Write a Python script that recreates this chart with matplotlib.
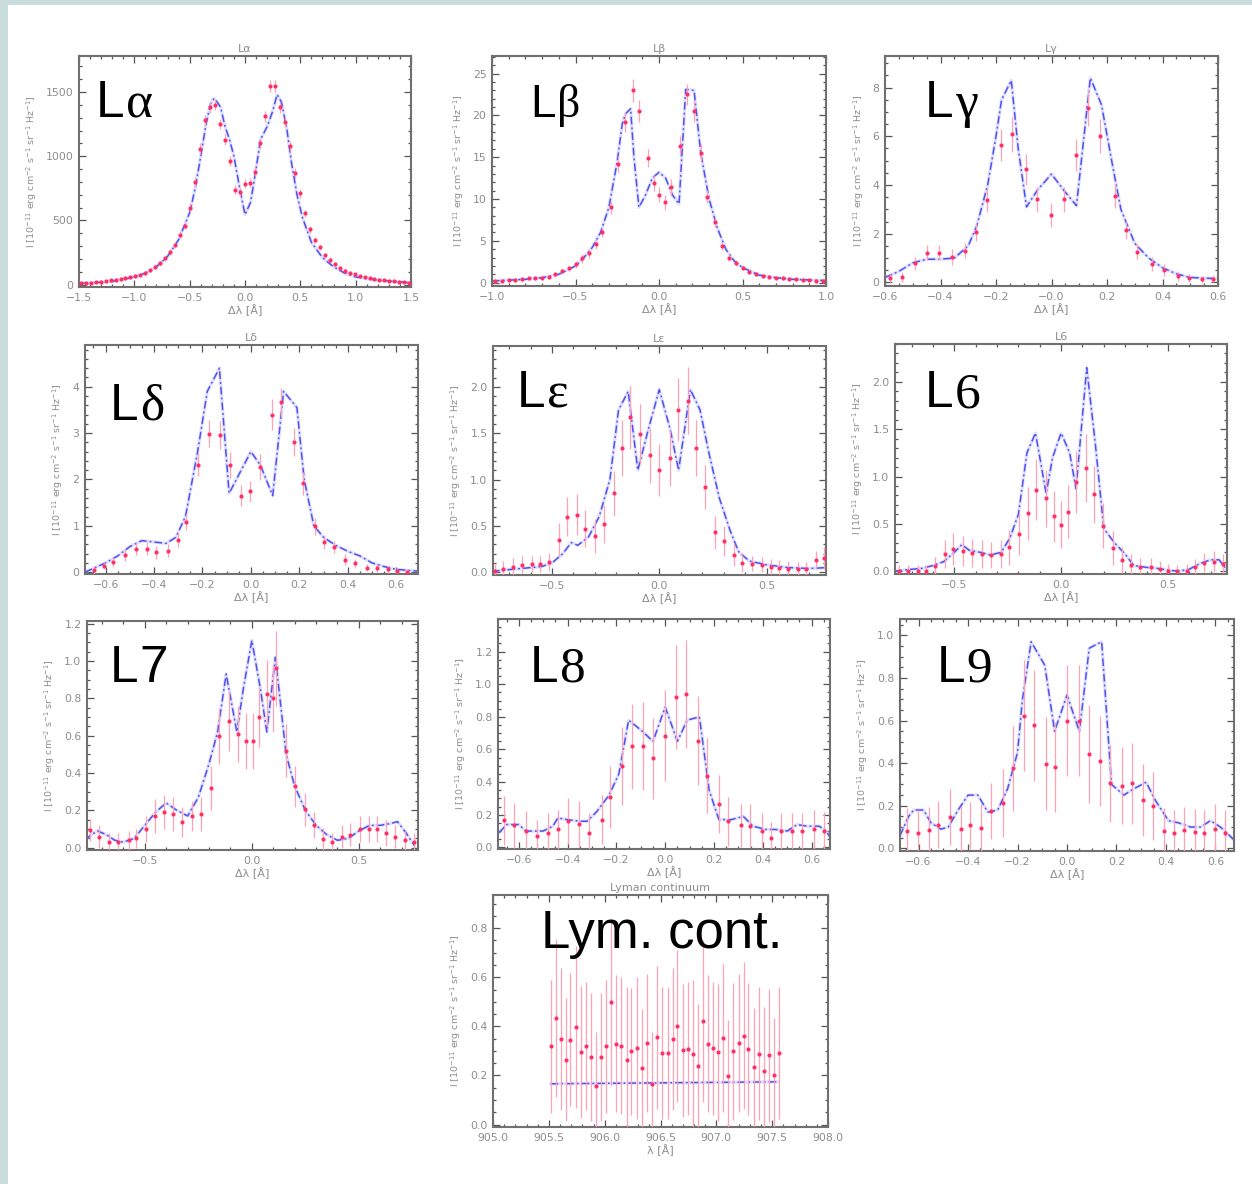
import matplotlib
matplotlib.use("Agg")
import matplotlib.pyplot as plt
from matplotlib.ticker import AutoMinorLocator
from matplotlib.patches import Rectangle

W, H = 1252, 1184
M = "\u2212"

# ---------------- Lyman alpha ----------------
LA_X = [-1.485, -1.44, -1.395, -1.35, -1.305, -1.26, -1.215, -1.17, -1.125, -1.08,
        -1.035, -0.99, -0.945, -0.9, -0.855, -0.81, -0.765, -0.72, -0.675, -0.63,
        -0.585, -0.54, -0.495, -0.45, -0.405, -0.36, -0.315, -0.27, -0.225, -0.18,
        -0.135, -0.09, -0.045, 0.0, 0.045, 0.09, 0.135, 0.18, 0.225, 0.27,
        0.315, 0.36, 0.405, 0.45, 0.495, 0.54, 0.585, 0.63, 0.675, 0.72,
        0.765, 0.81, 0.855, 0.9, 0.945, 0.99, 1.035, 1.08, 1.125, 1.17,
        1.215, 1.26, 1.305, 1.35, 1.395, 1.44, 1.485]
LA_Y = [12, 14, 16, 20, 24, 28, 33, 40, 45, 52,
        60, 68, 78, 92, 112, 140, 165, 205, 255, 310,
        390, 460, 600, 800, 1060, 1280, 1380, 1400, 1250, 1130,
        960, 740, 720, 785, 795, 880, 1100, 1310, 1545, 1545,
        1380, 1270, 1080, 870, 710, 555, 430, 345, 290, 230,
        195, 160, 130, 110, 92, 80, 68, 58, 50, 45,
        40, 35, 30, 27, 24, 20, 16]
LA_E = [10, 10, 10, 10, 10, 10, 12, 12, 12, 12,
        14, 14, 14, 16, 16, 18, 18, 20, 22, 24,
        26, 28, 32, 36, 40, 42, 44, 44, 42, 40,
        38, 35, 35, 35, 35, 36, 40, 42, 46, 46,
        44, 42, 40, 36, 32, 30, 26, 24, 22, 20,
        18, 18, 16, 16, 14, 14, 14, 12, 12, 12,
        12, 10, 10, 10, 10, 10, 10]
LA_MX = [-1.5, -1.2, -1.0, -0.9, -0.8, -0.7, -0.6, -0.5, -0.45, -0.4,
         -0.35, -0.31, -0.28, -0.25, -0.22, -0.18, -0.14, -0.1, -0.05, 0.0,
         0.05, 0.1, 0.14, 0.2, 0.25, 0.29, 0.33, 0.38, 0.42, 0.47,
         0.52, 0.6, 0.7, 0.8, 0.9, 1.0, 1.2, 1.5]
LA_MY = [10, 25, 60, 90, 140, 220, 350, 560, 750, 1000,
         1260, 1410, 1450, 1420, 1380, 1230, 1130, 1000, 760, 545,
         640, 900, 1130, 1230, 1350, 1480, 1420, 1200, 950, 700,
         520, 330, 210, 140, 90, 60, 35, 15]

# ---------------- Lyman beta ----------------
LB_X = [-0.98, -0.94, -0.90, -0.86, -0.82, -0.78, -0.74, -0.70, -0.66, -0.62,
        -0.58, -0.54, -0.50, -0.46, -0.42, -0.38, -0.34, -0.29, -0.245, -0.205,
        -0.155, -0.117, -0.065, -0.03, 0.0, 0.035, 0.073, 0.125, 0.165, 0.21,
        0.25, 0.29, 0.335, 0.38, 0.42, 0.46, 0.50, 0.54, 0.58, 0.62,
        0.66, 0.70, 0.74, 0.78, 0.82, 0.86, 0.90, 0.94, 0.98]
LB_Y = [0.2, 0.2, 0.3, 0.3, 0.4, 0.5, 0.6, 0.6, 0.7, 1.0,
        1.4, 1.7, 2.2, 2.9, 3.5, 4.6, 6.0, 9.0, 14.2, 19.2,
        23.0, 20.5, 14.9, 11.9, 10.5, 9.6, 11.4, 16.3, 22.5, 20.5,
        15.5, 10.3, 7.3, 4.4, 3.0, 2.3, 1.8, 1.3, 1.0, 0.8,
        0.7, 0.6, 0.5, 0.4, 0.4, 0.3, 0.3, 0.2, 0.2]
LB_E = [0.2, 0.2, 0.2, 0.2, 0.2, 0.2, 0.2, 0.2, 0.25, 0.3,
        0.3, 0.35, 0.4, 0.5, 0.5, 0.6, 0.6, 0.8, 1.0, 1.2,
        1.4, 1.3, 1.1, 1.0, 0.9, 0.9, 1.0, 1.2, 1.3, 1.3,
        1.1, 0.8, 0.6, 0.5, 0.4, 0.35, 0.3, 0.3, 0.25, 0.25,
        0.2, 0.2, 0.2, 0.2, 0.2, 0.2, 0.2, 0.2, 0.2]
LB_MX = [-1.0, -0.8, -0.7, -0.6, -0.5, -0.45, -0.4, -0.35, -0.3, -0.25,
         -0.22, -0.2, -0.17, -0.15, -0.12, -0.08, -0.04, 0.0, 0.04, 0.08,
         0.12, 0.16, 0.21, 0.25, 0.3, 0.35, 0.4, 0.45, 0.5, 0.6,
         0.7, 0.8, 1.0]
LB_MY = [0.2, 0.4, 0.6, 1.0, 2.0, 3.0, 4.2, 6.0, 9.0, 14.5,
         19.0, 20.2, 20.8, 15.0, 9.0, 10.5, 12.5, 13.2, 12.5, 10.5,
         9.4, 23.1, 23.0, 15.5, 10.0, 6.5, 4.0, 2.6, 1.8, 0.9,
         0.6, 0.4, 0.25]

# ---------------- Lyman gamma ----------------
LG_X = [-0.582, -0.54, -0.492, -0.45, -0.404, -0.36, -0.312, -0.272, -0.233, -0.182,
        -0.143, -0.093, -0.053, -0.002, 0.046, 0.088, 0.133, 0.176, 0.23, 0.268,
        0.308, 0.362, 0.404, 0.455, 0.494, 0.542, 0.582]
LG_Y = [0.16, 0.23, 0.78, 1.22, 1.22, 1.03, 1.30, 2.08, 3.38, 5.64,
        6.09, 4.64, 3.41, 2.76, 3.41, 5.23, 7.18, 6.0, 3.54, 2.15,
        1.26, 0.75, 0.51, 0.26, 0.18, 0.12, 0.15]
LG_E = [0.2, 0.2, 0.28, 0.32, 0.32, 0.32, 0.32, 0.38, 0.5, 0.65,
        0.72, 0.65, 0.52, 0.48, 0.52, 0.65, 0.75, 0.7, 0.5, 0.38,
        0.3, 0.28, 0.25, 0.22, 0.18, 0.15, 0.15]
LG_MX = [-0.6, -0.55, -0.5, -0.45, -0.4, -0.35, -0.3, -0.27, -0.23, -0.2,
         -0.18, -0.145, -0.12, -0.09, -0.05, 0.0, 0.05, 0.09, 0.14, 0.18,
         0.22, 0.25, 0.3, 0.35, 0.4, 0.45, 0.5, 0.6]
LG_MY = [0.2, 0.45, 0.8, 0.95, 0.95, 1.0, 1.5, 2.3, 4.0, 6.0,
         7.5, 8.3, 5.5, 3.1, 3.8, 4.45, 3.7, 3.15, 8.4, 7.3,
         4.8, 3.0, 1.6, 1.0, 0.6, 0.35, 0.2, 0.15]

# ---------------- Lyman delta ----------------
LD_X = [-0.648, -0.607, -0.569, -0.518, -0.476, -0.431, -0.391, -0.343, -0.302, -0.266,
        -0.22, -0.174, -0.126, -0.088, -0.041, -0.003, 0.036, 0.087, 0.125, 0.178,
        0.214, 0.265, 0.303, 0.343, 0.389, 0.43, 0.478, 0.519, 0.567, 0.604, 0.643]
LD_Y = [0.05, 0.14, 0.22, 0.37, 0.50, 0.50, 0.43, 0.46, 0.70, 1.08,
        2.32, 2.99, 2.96, 2.32, 1.65, 1.74, 2.26, 3.40, 3.66, 2.81,
        1.92, 0.99, 0.66, 0.55, 0.27, 0.19, 0.10, 0.09, 0.06, 0.03, 0.0]
LD_E = [0.08, 0.08, 0.1, 0.12, 0.13, 0.14, 0.14, 0.14, 0.15, 0.18,
        0.25, 0.3, 0.3, 0.28, 0.22, 0.22, 0.28, 0.33, 0.32, 0.3,
        0.25, 0.18, 0.15, 0.13, 0.12, 0.1, 0.08, 0.08, 0.07, 0.07, 0.06]
LD_MX = [-0.685, -0.6, -0.55, -0.5, -0.45, -0.4, -0.35, -0.31, -0.27, -0.22,
         -0.18, -0.13, -0.09, -0.05, 0.0, 0.04, 0.09, 0.135, 0.19, 0.22,
         0.26, 0.3, 0.35, 0.4, 0.45, 0.5, 0.55, 0.6, 0.69]
LD_MY = [0.0, 0.2, 0.35, 0.55, 0.68, 0.65, 0.62, 0.75, 1.2, 2.6,
         3.9, 4.4, 1.7, 2.1, 2.6, 2.3, 1.65, 3.9, 3.55, 2.0,
         1.0, 0.75, 0.58, 0.45, 0.35, 0.2, 0.12, 0.06, 0.02]

# ---------------- Lyman epsilon ----------------
LE_X = [-0.766, -0.727, -0.68, -0.642, -0.592, -0.558, -0.515, -0.468, -0.43, -0.383,
        -0.347, -0.298, -0.259, -0.212, -0.174, -0.135, -0.088, -0.045, 0.0, 0.048,
        0.087, 0.133, 0.172, 0.211, 0.259, 0.3, 0.346, 0.384, 0.434, 0.478,
        0.521, 0.56, 0.601, 0.648, 0.684, 0.73, 0.77]
LE_Y = [0.01, 0.04, 0.06, 0.08, 0.09, 0.09, 0.11, 0.35, 0.60, 0.62,
        0.47, 0.39, 0.52, 0.85, 1.34, 1.67, 1.49, 1.26, 1.10, 1.23,
        1.75, 1.85, 1.34, 0.92, 0.43, 0.34, 0.19, 0.10, 0.09, 0.08,
        0.06, 0.05, 0.04, 0.03, 0.03, 0.13, 0.15]
LE_E = [0.08, 0.08, 0.09, 0.09, 0.09, 0.09, 0.1, 0.18, 0.21, 0.22,
        0.2, 0.18, 0.2, 0.24, 0.3, 0.34, 0.32, 0.3, 0.28, 0.3,
        0.34, 0.36, 0.3, 0.24, 0.18, 0.16, 0.12, 0.1, 0.08, 0.08,
        0.08, 0.08, 0.08, 0.08, 0.08, 0.1, 0.12]
LE_MX = [-0.78, -0.6, -0.55, -0.5, -0.45, -0.41, -0.38, -0.33, -0.28, -0.23,
         -0.19, -0.145, -0.1, -0.05, 0.0, 0.05, 0.09, 0.145, 0.19, 0.23,
         0.28, 0.33, 0.37, 0.42, 0.5, 0.6, 0.7, 0.78]
LE_MY = [0.01, 0.05, 0.06, 0.1, 0.2, 0.32, 0.29, 0.38, 0.6, 1.0,
         1.75, 1.95, 1.1, 1.55, 1.97, 1.55, 1.1, 1.97, 1.75, 1.3,
         0.8, 0.45, 0.22, 0.12, 0.08, 0.05, 0.04, 0.05]

# ---------------- Lyman 6 ----------------
L6_X = [-0.758, -0.716, -0.669, -0.633, -0.591, -0.544, -0.505, -0.458, -0.419, -0.372,
        -0.33, -0.281, -0.242, -0.195, -0.156, -0.117, -0.07, -0.031, 0.0, 0.03,
        0.069, 0.116, 0.155, 0.194, 0.242, 0.284, 0.328, 0.37, 0.42, 0.461,
        0.503, 0.542, 0.589, 0.628, 0.67, 0.717, 0.758]
L6_Y = [0.0, 0.0, 0.0, 0.0, 0.05, 0.18, 0.23, 0.21, 0.19, 0.18,
        0.17, 0.18, 0.25, 0.39, 0.61, 0.86, 0.77, 0.58, 0.49, 0.63,
        0.94, 1.09, 0.81, 0.48, 0.24, 0.12, 0.06, 0.04, 0.04, 0.02,
        0.0, 0.0, 0.0, 0.04, 0.09, 0.10, 0.08]
L6_E = [0.07, 0.07, 0.07, 0.07, 0.1, 0.15, 0.17, 0.16, 0.15, 0.15,
        0.14, 0.15, 0.18, 0.22, 0.28, 0.32, 0.3, 0.27, 0.25, 0.28,
        0.33, 0.36, 0.3, 0.24, 0.18, 0.14, 0.12, 0.1, 0.1, 0.09,
        0.08, 0.07, 0.08, 0.09, 0.1, 0.11, 0.1]
L6_MX = [-0.78, -0.7, -0.65, -0.6, -0.55, -0.5, -0.465, -0.43, -0.38, -0.33,
         -0.28, -0.24, -0.2, -0.16, -0.12, -0.07, -0.04, 0.0, 0.04, 0.07,
         0.12, 0.16, 0.2, 0.25, 0.3, 0.34, 0.4, 0.45, 0.5, 0.55,
         0.6, 0.65, 0.7, 0.74, 0.78]
L6_MY = [0.0, 0.02, 0.03, 0.06, 0.1, 0.2, 0.28, 0.22, 0.2, 0.17,
         0.2, 0.35, 0.6, 1.25, 1.46, 0.82, 1.2, 1.46, 1.25, 0.87,
         2.15, 1.35, 0.45, 0.3, 0.18, 0.06, 0.04, 0.03, 0.01, 0.0,
         0.02, 0.08, 0.12, 0.12, 0.0]

# ---------------- Lyman 7 ----------------
L7_X = [-0.755, -0.712, -0.665, -0.623, -0.576, -0.54, -0.494, -0.452, -0.41, -0.366,
        -0.327, -0.28, -0.238, -0.192, -0.153, -0.109, -0.065, -0.028, 0.005, 0.034,
        0.07, 0.10, 0.112, 0.159, 0.203, 0.246, 0.288, 0.332, 0.374, 0.42,
        0.46, 0.506, 0.545, 0.584, 0.628, 0.67, 0.717, 0.755]
L7_Y = [0.095, 0.06, 0.03, 0.03, 0.04, 0.05, 0.10, 0.17, 0.19, 0.18,
        0.14, 0.17, 0.18, 0.32, 0.60, 0.68, 0.61, 0.57, 0.57, 0.70,
        0.825, 0.80, 0.96, 0.52, 0.33, 0.205, 0.12, 0.045, 0.03, 0.06,
        0.07, 0.10, 0.10, 0.10, 0.08, 0.06, 0.04, 0.03]
L7_E = [0.06, 0.06, 0.05, 0.05, 0.05, 0.05, 0.07, 0.09, 0.09, 0.09,
        0.08, 0.08, 0.09, 0.12, 0.15, 0.16, 0.15, 0.15, 0.15, 0.16,
        0.18, 0.18, 0.2, 0.14, 0.11, 0.09, 0.07, 0.06, 0.05, 0.06,
        0.06, 0.07, 0.07, 0.07, 0.07, 0.06, 0.05, 0.05]
L7_MX = [-0.78, -0.75, -0.72, -0.68, -0.64, -0.6, -0.55, -0.5, -0.45, -0.4,
         -0.35, -0.3, -0.25, -0.2, -0.16, -0.12, -0.07, -0.04, 0.0, 0.04,
         0.07, 0.11, 0.16, 0.2, 0.25, 0.3, 0.35, 0.4, 0.45, 0.5,
         0.55, 0.6, 0.65, 0.68, 0.72, 0.76]
L7_MY = [0.04, 0.07, 0.09, 0.07, 0.04, 0.03, 0.05, 0.12, 0.19, 0.24,
         0.2, 0.17, 0.27, 0.45, 0.62, 0.93, 0.62, 0.85, 1.11, 0.85,
         0.62, 1.02, 0.5, 0.33, 0.2, 0.12, 0.07, 0.04, 0.05, 0.09,
         0.12, 0.12, 0.13, 0.14, 0.08, 0.01]

# ---------------- Lyman 8 ----------------
L8_X = [-0.659, -0.618, -0.57, -0.525, -0.48, -0.438, -0.40, -0.352, -0.314, -0.26,
        -0.225, -0.177, -0.136, -0.089, -0.052, -0.001, 0.046, 0.085, 0.135, 0.173,
        0.221, 0.259, 0.31, 0.347, 0.396, 0.432, 0.473, 0.518, 0.559, 0.61, 0.65]
L8_Y = [0.165, 0.135, 0.10, 0.07, 0.09, 0.11, 0.16, 0.145, 0.09, 0.17,
        0.31, 0.50, 0.62, 0.62, 0.545, 0.685, 0.92, 0.94, 0.655, 0.44,
        0.266, 0.16, 0.135, 0.133, 0.10, 0.057, 0.10, 0.098, 0.098, 0.11, 0.098]
L8_E = [0.15, 0.14, 0.12, 0.1, 0.12, 0.12, 0.14, 0.14, 0.12, 0.15,
        0.19, 0.24, 0.26, 0.27, 0.25, 0.28, 0.32, 0.33, 0.27, 0.23,
        0.18, 0.15, 0.13, 0.13, 0.11, 0.1, 0.11, 0.11, 0.11, 0.12, 0.12]
L8_MX = [-0.68, -0.65, -0.6, -0.57, -0.5, -0.46, -0.44, -0.4, -0.35, -0.32,
         -0.28, -0.23, -0.19, -0.15, -0.1, -0.05, 0.0, 0.05, 0.09, 0.14,
         0.18, 0.22, 0.27, 0.32, 0.36, 0.41, 0.45, 0.5, 0.54, 0.58,
         0.63, 0.66, 0.68]
L8_MY = [0.09, 0.14, 0.14, 0.10, 0.10, 0.13, 0.18, 0.17, 0.16, 0.16,
         0.22, 0.32, 0.45, 0.78, 0.72, 0.65, 0.86, 0.65, 0.78, 0.80,
         0.35, 0.17, 0.17, 0.19, 0.13, 0.11, 0.11, 0.10, 0.14, 0.13,
         0.13, 0.10, 0.05]

# ---------------- Lyman 9 ----------------
L9_X = [-0.647, -0.604, -0.559, -0.52, -0.472, -0.429, -0.391, -0.348, -0.307, -0.26,
        -0.22, -0.173, -0.132, -0.085, -0.047, 0.0, 0.047, 0.088, 0.135, 0.174,
        0.222, 0.261, 0.306, 0.346, 0.393, 0.434, 0.472, 0.519, 0.555, 0.60, 0.64]
L9_Y = [0.081, 0.07, 0.084, 0.11, 0.147, 0.089, 0.108, 0.097, 0.175, 0.214,
        0.375, 0.623, 0.577, 0.398, 0.381, 0.60, 0.60, 0.445, 0.41, 0.305,
        0.295, 0.305, 0.227, 0.20, 0.081, 0.07, 0.086, 0.077, 0.07, 0.089, 0.07]
L9_E = [0.11, 0.11, 0.11, 0.11, 0.13, 0.11, 0.11, 0.11, 0.13, 0.16,
        0.2, 0.26, 0.26, 0.22, 0.21, 0.26, 0.26, 0.23, 0.21, 0.18,
        0.18, 0.19, 0.17, 0.16, 0.11, 0.11, 0.11, 0.11, 0.11, 0.12, 0.11]
L9_MX = [-0.675, -0.64, -0.62, -0.58, -0.55, -0.51, -0.48, -0.44, -0.4, -0.36,
         -0.32, -0.28, -0.24, -0.2, -0.18, -0.145, -0.09, -0.05, 0.0, 0.05,
         0.09, 0.14, 0.18, 0.23, 0.27, 0.32, 0.36, 0.41, 0.45, 0.5,
         0.54, 0.58, 0.62, 0.675]
L9_MY = [0.06, 0.15, 0.18, 0.18, 0.12, 0.09, 0.10, 0.18, 0.25, 0.25,
         0.17, 0.18, 0.28, 0.45, 0.70, 0.97, 0.86, 0.55, 0.72, 0.55,
         0.94, 0.97, 0.3, 0.25, 0.28, 0.31, 0.22, 0.13, 0.12, 0.10,
         0.10, 0.13, 0.10, 0.04]

# ---------------- Lyman continuum ----------------
LC_X = [905.515, 905.561, 905.607, 905.654, 905.694, 905.740, 905.789, 905.833, 905.879, 905.925,
        905.965, 906.011, 906.058, 906.104, 906.150, 906.196, 906.240, 906.286, 906.332, 906.381,
        906.425, 906.471, 906.517, 906.563, 906.610, 906.650, 906.702, 906.748, 906.788, 906.835,
        906.881, 906.927, 906.967, 907.014, 907.060, 907.106, 907.152, 907.199, 907.245, 907.288,
        907.337, 907.381, 907.427, 907.473, 907.519, 907.559]
LC_Y = [0.319, 0.434, 0.348, 0.264, 0.346, 0.397, 0.296, 0.319, 0.274, 0.156,
        0.275, 0.319, 0.498, 0.33, 0.321, 0.262, 0.298, 0.312, 0.231, 0.332,
        0.167, 0.355, 0.292, 0.292, 0.348, 0.403, 0.302, 0.309, 0.289, 0.24,
        0.42, 0.33, 0.31, 0.294, 0.353, 0.197, 0.298, 0.332, 0.362, 0.308,
        0.233, 0.289, 0.217, 0.282, 0.203, 0.292]
LC_E = [0.27, 0.32, 0.29, 0.25, 0.27, 0.33, 0.27, 0.26, 0.26, 0.22,
        0.26, 0.27, 0.34, 0.28, 0.28, 0.3, 0.26, 0.29, 0.24, 0.28,
        0.21, 0.29, 0.27, 0.27, 0.29, 0.31, 0.27, 0.27, 0.3, 0.25,
        0.33, 0.28, 0.27, 0.28, 0.3, 0.23, 0.28, 0.28, 0.3, 0.27,
        0.24, 0.27, 0.26, 0.27, 0.23, 0.27]
LC_MX = [905.515, 907.559]
LC_MY = [0.166, 0.174]

# tick values and labels
TK_LA_X = [-1.5, -1.0, -0.5, 0.0, 0.5, 1.0, 1.5]
TL_LA_X = [M + "1.5", M + "1.0", M + "0.5", "0.0", "0.5", "1.0", "1.5"]
TK_LA_Y = [0, 500, 1000, 1500]
TK_LB_X = [-1.0, -0.5, 0.0, 0.5, 1.0]
TL_LB_X = [M + "1.0", M + "0.5", "0.0", "0.5", "1.0"]
TK_LB_Y = [0, 5, 10, 15, 20, 25]
TK_06 = [-0.6, -0.4, -0.2, 0.0, 0.2, 0.4, 0.6]
TL_06 = [M + "0.6", M + "0.4", M + "0.2", "0.0", "0.2", "0.4", "0.6"]
TL_06N = [M + "0.6", M + "0.4", M + "0.2", M + "0.0", "0.2", "0.4", "0.6"]
TK_05 = [-0.5, 0.0, 0.5]
TL_05 = [M + "0.5", "0.0", "0.5"]
TK_LG_Y = [0, 2, 4, 6, 8]
TK_LD_Y = [0, 1, 2, 3, 4]
TK_20 = [0.0, 0.5, 1.0, 1.5, 2.0]
TK_12 = [0.0, 0.2, 0.4, 0.6, 0.8, 1.0, 1.2]
TK_10 = [0.0, 0.2, 0.4, 0.6, 0.8, 1.0]
TK_08 = [0.0, 0.2, 0.4, 0.6, 0.8]
TK_LC_X = [905.0, 905.5, 906.0, 906.5, 907.0, 907.5, 908.0]


def fmt(vals, nd):
    return [f"{v:.{nd}f}" for v in vals]


DL = "\u0394\u03bb [\u00c5]"
YLAB = r"I [10$^{-11}$ erg cm$^{-2}$ s$^{-1}$ sr$^{-1}$ Hz$^{-1}$]"

panels = [
    dict(x=LA_X, y=LA_Y, e=LA_E, mx=LA_MX, my=LA_MY, title="L\u03b1",
         rect=(79, 56, 411, 287), xlim=(-1.5, 1.5), ylim=(-18, 1780),
         xt=TK_LA_X, xtl=TL_LA_X, yt=TK_LA_Y, ytl=fmt(TK_LA_Y, 0), mn=(5, 5),
         xlabel=DL, big=("L", "\u03b1"), pos=(96, 117), size=37, sfam="Liberation Serif"),
    dict(x=LB_X, y=LB_Y, e=LB_E, mx=LB_MX, my=LB_MY, title="L\u03b2",
         rect=(492, 56, 826, 286), xlim=(-1.0, 1.0), ylim=(-0.4, 27.1),
         xt=TK_LB_X, xtl=TL_LB_X, yt=TK_LB_Y, ytl=fmt(TK_LB_Y, 0), mn=(5, 5),
         xlabel=DL, big=("L", "\u03b2"), pos=(530, 117), size=33, sfam="Liberation Serif"),
    dict(x=LG_X, y=LG_Y, e=LG_E, mx=LG_MX, my=LG_MY, title="L\u03b3",
         rect=(885, 56, 1218, 286), xlim=(-0.6, 0.6), ylim=(-0.15, 9.3),
         xt=TK_06, xtl=TL_06N, yt=TK_LG_Y, ytl=fmt(TK_LG_Y, 0), mn=(4, 4),
         xlabel=DL, big=("L", "\u03b3"), pos=(925, 117), size=37, sfam="Liberation Serif"),
    dict(x=LD_X, y=LD_Y, e=LD_E, mx=LD_MX, my=LD_MY, title="L\u03b4",
         rect=(85, 345, 418, 574), xlim=(-0.685, 0.69), ylim=(-0.04, 4.9),
         xt=TK_06, xtl=TL_06, yt=TK_LD_Y, ytl=fmt(TK_LD_Y, 0), mn=(4, 5),
         xlabel=DL, big=("L", "\u03b4"), pos=(110, 420), size=37, sfam="Liberation Serif"),
    dict(x=LE_X, y=LE_Y, e=LE_E, mx=LE_MX, my=LE_MY, title="L\u03b5",
         rect=(493, 346, 826, 575), xlim=(-0.775, 0.777), ylim=(-0.03, 2.44),
         xt=TK_05, xtl=TL_05, yt=TK_20, ytl=fmt(TK_20, 1), mn=(5, 5),
         xlabel=DL, big=("L", "\u03b5"), pos=(517, 407), size=37, sfam="Liberation Serif"),
    dict(x=L6_X, y=L6_Y, e=L6_E, mx=L6_MX, my=L6_MY, title="L6",
         rect=(895, 344, 1227, 574), xlim=(-0.778, 0.777), ylim=(-0.03, 2.40),
         xt=TK_05, xtl=TL_05, yt=TK_20, ytl=fmt(TK_20, 1), mn=(5, 5),
         xlabel=DL, big=("L", "6"), pos=(925, 407), size=37, sfam="Liberation Serif"),
    dict(x=L7_X, y=L7_Y, e=L7_E, mx=L7_MX, my=L7_MY, title=None,
         rect=(87, 621, 418, 850), xlim=(-0.77, 0.776), ylim=(-0.012, 1.214),
         xt=TK_05, xtl=TL_05, yt=TK_12, ytl=fmt(TK_12, 1), mn=(5, 4),
         xlabel=DL, big=("L", "7"), pos=(110, 682), size=37, sfam="Liberation Sans"),
    dict(x=L8_X, y=L8_Y, e=L8_E, mx=L8_MX, my=L8_MY, title=None,
         rect=(498, 619, 830, 849), xlim=(-0.685, 0.675), ylim=(-0.01, 1.40),
         xt=TK_06, xtl=TL_06, yt=TK_12, ytl=fmt(TK_12, 1), mn=(4, 4),
         xlabel=DL, big=("L", "8"), pos=(530, 682), size=37, sfam="Liberation Serif"),
    dict(x=L9_X, y=L9_Y, e=L9_E, mx=L9_MX, my=L9_MY, title=None,
         rect=(900, 619, 1234, 851), xlim=(-0.675, 0.675), ylim=(-0.0125, 1.077),
         xt=TK_06, xtl=TL_06, yt=TK_10, ytl=fmt(TK_10, 1), mn=(4, 4),
         xlabel=DL, big=("L", "9"), pos=(937, 682), size=37, sfam="Liberation Serif"),
    dict(x=LC_X, y=LC_Y, e=LC_E, mx=LC_MX, my=LC_MY, title="Lyman continuum",
         rect=(493, 895, 828, 1127), xlim=(905.0, 908.0), ylim=(-0.01, 0.935),
         xt=TK_LC_X, xtl=fmt(TK_LC_X, 1), yt=TK_08, ytl=fmt(TK_08, 1), mn=(5, 4),
         xlabel="\u03bb [\u00c5]", big=("Lym. cont.", ""), pos=(541, 948), size=38,
         sfam="Liberation Sans"),
]

GREY_TXT = "#8c8c8c"
FRAME = "#707070"

fig = plt.figure(figsize=(W / 100, H / 100), dpi=100)
fig.patch.set_facecolor("white")

# light frame strips along the left and top edges
fig.patches.append(Rectangle((0, 0), 8 / W, 1, transform=fig.transFigure,
                             facecolor="#c9dddc", edgecolor="none", zorder=0))
fig.patches.append(Rectangle((0, 1 - 5 / H), 1, 5 / H, transform=fig.transFigure,
                             facecolor="#c9dddc", edgecolor="none", zorder=0))

for p in panels:
    l, t, r, b = p["rect"]
    ax = fig.add_axes([l / W, 1 - b / H, (r - l) / W, (b - t) / H])
    ax.set_xlim(*p["xlim"])
    ax.set_ylim(*p["ylim"])

    # model profile: soft underlay plus dash-dot line
    ax.plot(p["mx"], p["my"], color="#b4b4ff", lw=2.4, alpha=0.4, zorder=2,
            solid_capstyle="round")
    ax.plot(p["mx"], p["my"], color="#5050f2", lw=1.1, zorder=2.5,
            dashes=(5, 2, 1.2, 2))

    # observed intensities with error bars
    ax.errorbar(p["x"], p["y"], yerr=p["e"], fmt="o", ms=3.0, mfc="#ff2f68",
                mec="#ff2f68", mew=0, ecolor="#ffa3b4", elinewidth=0.9,
                capsize=2.4, capthick=0.9, zorder=3)

    ax.set_xticks(p["xt"])
    ax.set_xticklabels(p["xtl"])
    ax.set_yticks(p["yt"])
    ax.set_yticklabels(p["ytl"])
    ax.xaxis.set_minor_locator(AutoMinorLocator(p["mn"][0]))
    ax.yaxis.set_minor_locator(AutoMinorLocator(p["mn"][1]))
    ax.tick_params(which="both", direction="in", top=True, right=True,
                   color="#555555", labelcolor=GREY_TXT, labelsize=7.8, width=0.9)
    ax.tick_params(which="major", length=5, pad=4)
    ax.tick_params(which="minor", length=2.5)
    for s in ax.spines.values():
        s.set_color(FRAME)
        s.set_linewidth(1.5)

    ax.set_xlabel(p["xlabel"], fontsize=8, color=GREY_TXT, labelpad=1)
    ax.set_ylabel(YLAB, fontsize=6.8, color=GREY_TXT, labelpad=5)
    if p["title"]:
        ax.set_title(p["title"], fontsize=8, color=GREY_TXT, pad=3)

fig.canvas.draw()
renderer = fig.canvas.get_renderer()

# large line identifiers
for p in panels:
    px, py = p["pos"]
    head, tail = p["big"]
    t1 = fig.text(px / W, 1 - py / H, head, fontsize=p["size"], color="black",
                  family="Liberation Sans", ha="left", va="baseline", zorder=10)
    if tail:
        bb = t1.get_window_extent(renderer)
        fig.text((bb.x1 + 1) / W, 1 - py / H, tail, fontsize=p["size"], color="black",
                 family=p["sfam"], ha="left", va="baseline", zorder=10)

fig.savefig("out.png", dpi=100, facecolor="white")
